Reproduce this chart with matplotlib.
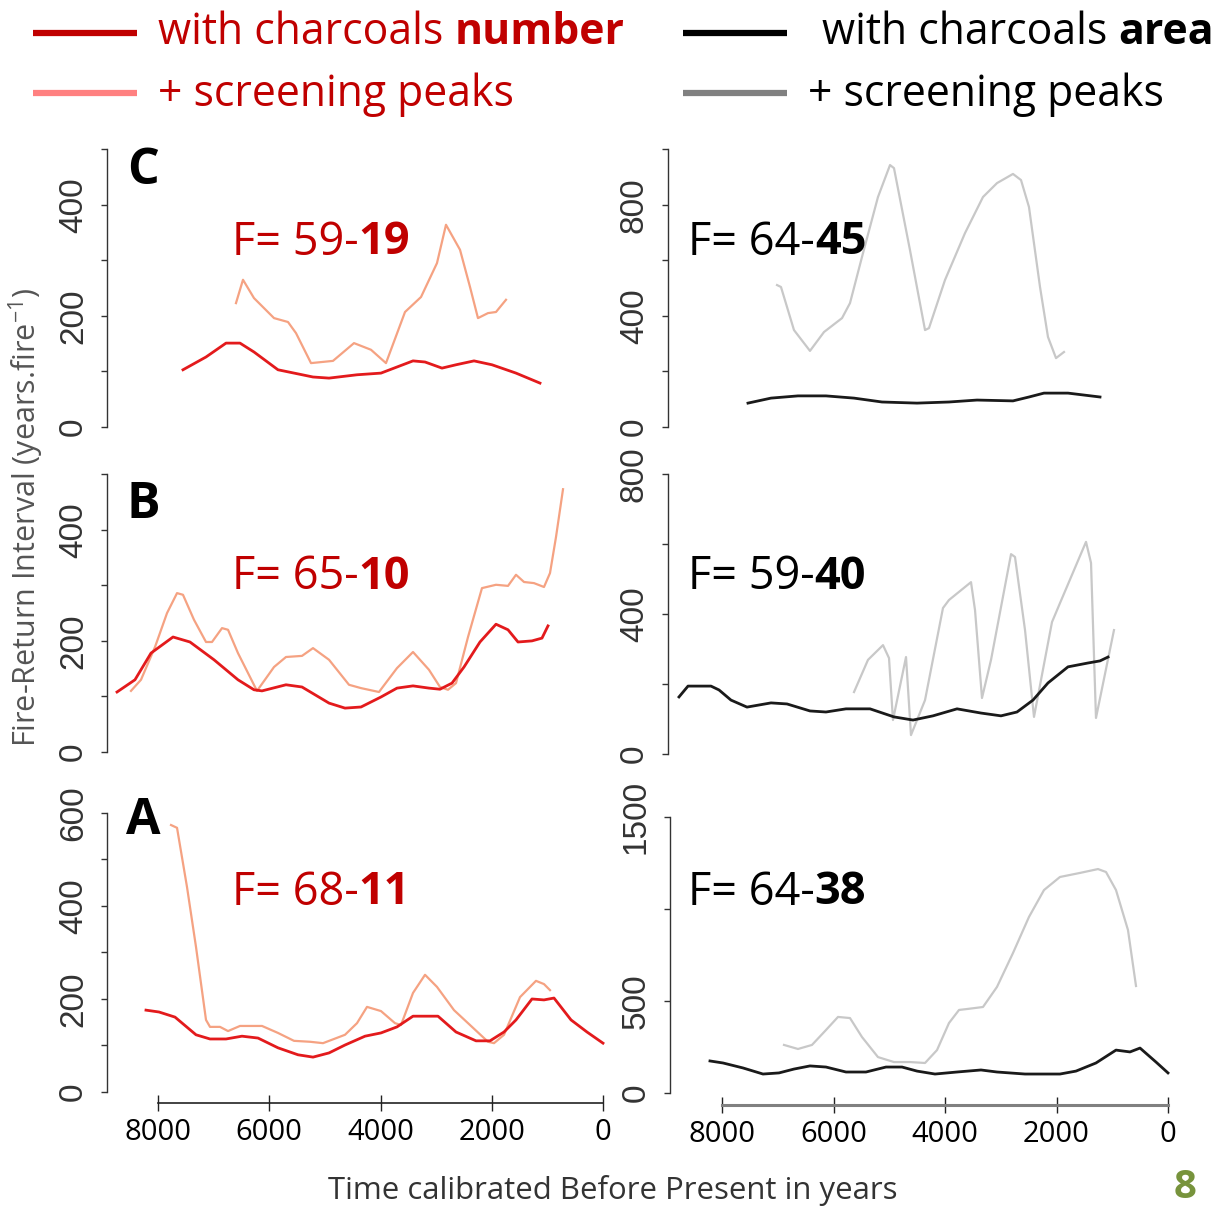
import matplotlib
matplotlib.use("Agg")
import matplotlib.pyplot as plt
from matplotlib.lines import Line2D

W, H = 1221, 1211

# ---- data (time BP in years, fire-return interval in years) ----
# C, charcoal number
c_num_t = [7552, 7138, 6778, 6527, 6275, 5844, 5214, 4926, 4423, 3992, 3704, 3416, 3200,
           2895, 2643, 2319, 1996, 1564, 1133]
c_num_v = [103, 126, 151, 151, 135, 103, 90, 88, 94, 97, 108, 119, 117, 106, 112, 119, 112, 97, 79]
c_npk_t = [6599, 6473, 6275, 5915, 5664, 5520, 5250, 4855, 4477, 4171, 3902, 3560, 3272,
           2985, 2823, 2571, 2391, 2248, 2068, 1924, 1744]
c_npk_v = [223, 265, 232, 196, 189, 169, 115, 119, 151, 139, 115, 207, 234, 295, 364, 319,
           252, 196, 205, 207, 229]
# C, charcoal area
c_area_t = [7535, 7122, 6638, 6136, 5633, 5131, 4503, 3929, 3427, 2781, 2494, 2225, 1794, 1507, 1220]
c_area_v = [86, 104, 112, 112, 104, 90, 86, 90, 97, 94, 108, 122, 122, 115, 108]
c_apk_t = [7014, 6943, 6710, 6423, 6171, 5848, 5705, 5490, 5203, 4987, 4916, 4629, 4359, 4288,
           4001, 3642, 3319, 3068, 2781, 2637, 2494, 2296, 2153, 2009, 1866]
c_apk_v = [511, 504, 349, 274, 342, 392, 446, 612, 828, 943, 932, 637, 349, 356, 529, 698, 828,
           878, 911, 889, 792, 504, 324, 248, 270]

# B, charcoal number
b_num_t = [8738, 8415, 8127, 7731, 7426, 6994, 6563, 6275, 6131, 5700, 5412, 4926, 4639, 4351,
           3992, 3704, 3416, 3129, 2931, 2715, 2499, 2212, 1924, 1708, 1528, 1277, 1097, 989]
b_num_v = [108, 130, 178, 207, 198, 166, 130, 112, 110, 121, 117, 88, 79, 81, 99, 115, 119, 115,
           113, 124, 153, 198, 230, 220, 198, 200, 205, 227]
b_npk_t = [8487, 8307, 8055, 7839, 7659, 7552, 7354, 7138, 7030, 6850, 6742, 6563, 6221, 5915,
           5700, 5412, 5214, 4926, 4567, 4351, 4028, 3704, 3416, 3129, 2931, 2787, 2643, 2427,
           2176, 1924, 1708, 1564, 1420, 1241, 1061, 953, 845, 719]
b_npk_v = [110, 130, 189, 250, 286, 283, 238, 198, 198, 223, 220, 178, 110, 153, 171, 173, 187,
           166, 121, 115, 108, 151, 180, 148, 117, 112, 124, 207, 295, 301, 299, 319, 306, 304,
           297, 322, 387, 473]
# B, charcoal area
b_area_t = [8773, 8611, 8199, 8055, 7840, 7553, 7122, 6835, 6423, 6136, 5777, 5346, 4916, 4575,
            4216, 3785, 3355, 2996, 2709, 2422, 2153, 1794, 1435, 1220, 1076]
b_area_v = [163, 194, 194, 183, 154, 134, 146, 143, 123, 120, 129, 129, 106, 97, 109, 129, 117,
            109, 120, 154, 203, 249, 260, 266, 277]
b_apk_t = [5633, 5382, 5113, 5005, 4934, 4700, 4611, 4359, 4037, 3929, 3534, 3462, 3337, 3175,
           2816, 2745, 2565, 2404, 2081, 1938, 1471, 1381, 1292, 969]
b_apk_v = [177, 269, 311, 274, 97, 277, 54, 154, 417, 440, 491, 411, 160, 269, 571, 563, 354,
           106, 377, 431, 606, 546, 103, 354]

# A, charcoal number
a_num_t = [8217, 7983, 7695, 7318, 7066, 6778, 6491, 6203, 5844, 5484, 5214, 4926, 4639, 4279,
           3992, 3704, 3416, 2967, 2643, 2283, 2032, 1780, 1564, 1277, 1061, 881, 575, 288, 0]
a_num_v = [176, 172, 161, 123, 114, 114, 120, 116, 95, 80, 75, 84, 101, 120, 127, 140, 163, 163,
           129, 110, 110, 129, 155, 200, 198, 202, 155, 129, 105]
a_npk_t = [7767, 7659, 7480, 7318, 7138, 7066, 6886, 6742, 6527, 6131, 5844, 5556, 5268, 5034,
           4639, 4423, 4243, 3992, 3740, 3632, 3416, 3200, 2985, 2679, 2427, 2068, 1960, 1780,
           1492, 1205, 1061, 953]
a_npk_v = [574, 568, 441, 312, 155, 140, 140, 131, 142, 142, 127, 110, 108, 105, 123, 148, 183,
           174, 148, 144, 213, 252, 226, 176, 148, 108, 105, 123, 204, 239, 232, 219]
# A, charcoal area
a_area_t = [8217, 7983, 7625, 7266, 6979, 6710, 6423, 6136, 5777, 5418, 5059, 4772, 4503, 4180,
            3785, 3355, 3068, 2565, 1938, 1650, 1292, 933, 682, 502, 215, 0]
a_area_v = [174, 163, 136, 103, 109, 130, 147, 141, 114, 114, 141, 141, 119, 103, 114, 125, 114,
            103, 103, 119, 163, 233, 223, 244, 168, 109]
a_apk_t = [6889, 6638, 6387, 6136, 5920, 5705, 5490, 5203, 4916, 4629, 4359, 4144, 3929, 3749,
           3606, 3319, 3068, 2781, 2494, 2225, 1938, 1579, 1256, 1112, 933, 718, 574]
a_apk_v = [261, 239, 261, 342, 413, 407, 304, 195, 168, 168, 163, 233, 380, 451, 456, 467, 576,
           760, 956, 1102, 1173, 1195, 1216, 1200, 1102, 885, 581]

f_left = [("59-", "19"), ("65-", "10"), ("68-", "11")]
f_right = [("64-", "45"), ("59-", "40"), ("64-", "38")]
letters = ["C", "B", "A"]

RED, ORANGE = "#E31A1C", "#F5A282"
BLACK, GREY = "#1A1A1A", "#C8C8C8"
DARKRED = "#C00000"
SANS = ["Open Sans", "DejaVu Sans"]

fig = plt.figure(figsize=(W / 100, H / 100), dpi=100)


def panel(x0, x1, y0, y1, t_at, t_sc, v_at, v_sc, ymax, step, labelled, xaxis=False, xcol="#222222", xlw=1.2):
    ax = fig.add_axes([x0 / W, 1 - y1 / H, (x1 - x0) / W, (y1 - y0) / H])
    ax.patch.set_visible(False)
    ax.set_xlim((t_at - x0) * t_sc, (t_at - x1) * t_sc)
    ax.set_ylim((v_at - y1) * v_sc, (v_at - y0) * v_sc)
    for s in ("top", "right"):
        ax.spines[s].set_visible(False)
    ax.spines["left"].set_bounds(0, ymax)
    ax.spines["left"].set_color("#333333")
    ax.spines["left"].set_linewidth(1.0)
    ticks = list(range(0, ymax + 1, step))
    ax.set_yticks(ticks)
    ax.set_yticklabels([str(t) if t in labelled else "" for t in ticks], rotation=90,
                       va="center", family=["Liberation Sans", "DejaVu Sans"], fontsize=24,
                       color="#333333")
    ax.tick_params(axis="y", length=4, width=1, color="#333333", pad=9)
    if xaxis:
        ax.spines["bottom"].set_bounds(0, 8000)
        ax.spines["bottom"].set_color(xcol)
        ax.spines["bottom"].set_linewidth(xlw)
        ax.set_xticks(range(0, 8001, 2000))
        ax.set_xticklabels([str(t) for t in range(0, 8001, 2000)],
                           family=["Liberation Sans Narrow", "Open Sans"], fontsize=21)
        ax.tick_params(axis="x", direction="inout", length=11, width=1, color="#222222", pad=5)
    else:
        ax.spines["bottom"].set_visible(False)
        ax.set_xticks([])
    return ax


L = (603, 17.98)
R = (1168, 17.94)
ax_c1 = panel(107, 640, 140, 440, *L, 427, 1.8, 500, 100, (0, 200, 400))
ax_c2 = panel(668, 1215, 140, 440, *R, 427, 3.6, 1000, 200, (0, 400, 800))
ax_b1 = panel(107, 640, 465, 760, *L, 752, 1.8, 500, 100, (0, 200, 400))
ax_b2 = panel(668, 1215, 465, 765, *R, 754, 2.857, 800, 200, (0, 400, 800))
ax_a1 = panel(107, 640, 795, 1103, *L, 1092, 2.15, 600, 100, (0, 200, 400, 600), xaxis=True)
ax_a2 = panel(670, 1215, 795, 1105, *R, 1093, 5.43, 1500, 500, (0, 500, 1500), xaxis=True,
              xcol="#808080", xlw=2.2)

for ax, t, v in [(ax_c1, c_npk_t, c_npk_v), (ax_b1, b_npk_t, b_npk_v), (ax_a1, a_npk_t, a_npk_v)]:
    ax.plot(t, v, color=ORANGE, lw=1.6, solid_joinstyle="round")
for ax, t, v in [(ax_c1, c_num_t, c_num_v), (ax_b1, b_num_t, b_num_v), (ax_a1, a_num_t, a_num_v)]:
    ax.plot(t, v, color=RED, lw=2.0, solid_joinstyle="round")
for ax, t, v in [(ax_c2, c_apk_t, c_apk_v), (ax_b2, b_apk_t, b_apk_v), (ax_a2, a_apk_t, a_apk_v)]:
    ax.plot(t, v, color=GREY, lw=1.6, solid_joinstyle="round")
for ax, t, v in [(ax_c2, c_area_t, c_area_v), (ax_b2, b_area_t, b_area_v), (ax_a2, a_area_t, a_area_v)]:
    ax.plot(t, v, color=BLACK, lw=2.0, solid_joinstyle="round")

renderer = fig.canvas.get_renderer()


def two_part(x, y, a, b, color, size):
    t1 = fig.text(x / W, 1 - y / H, a, color=color, fontsize=size, family=SANS,
                  ha="left", va="center")
    bb = t1.get_window_extent(renderer)
    fig.text(bb.x1 / W, 1 - y / H, b, color=color, fontsize=size, family=SANS,
             fontweight="bold", ha="left", va="center")


# panel letters and F values
for i, y in enumerate([243, 577, 893]):
    fig.text(143 / W, 1 - (y - 72) / H, letters[i], fontsize=36, fontweight="bold",
             family=SANS, ha="center", va="center", color="black")
    two_part(232, y, "F= " + f_left[i][0], f_left[i][1], DARKRED, 32.5)
    two_part(688, y, "F= " + f_right[i][0], f_right[i][1], "black", 32.5)

# legend
for (xa, xb, y, col) in [(33, 137, 33, DARKRED), (33, 137, 93, "#FF8080"),
                         (683, 787, 33, "black"), (683, 787, 93, "#808080")]:
    fig.add_artist(Line2D([xa / W, xb / W], [1 - y / H] * 2, transform=fig.transFigure,
                          color=col, lw=4.5, solid_capstyle="butt"))
two_part(158, 33, "with charcoals ", "number", DARKRED, 30.8)
fig.text(158 / W, 1 - 95 / H, "+ screening peaks", color=DARKRED, fontsize=30.8, family=SANS,
         ha="left", va="center")
two_part(822, 33, "with charcoals ", "area", "black", 30.8)
fig.text(808 / W, 1 - 95 / H, "+ screening peaks", color="black", fontsize=30.8, family=SANS,
         ha="left", va="center")

# axis titles
fig.text(26 / W, 1 - 517 / H, "Fire-Return Interval (years.fire$^{\\mathregular{-1}}$)",
         rotation=90, fontsize=22, family=SANS, color="#555555", ha="center", va="center")
fig.text(613 / W, 1 - 1191 / H, "Time calibrated Before Present in years", fontsize=22.4,
         family=SANS, color="#333333", ha="center", va="center")
fig.text(1185 / W, 1 - 1188 / H, "8", fontsize=29, fontweight="bold", family=SANS,
         color="#77933C", ha="center", va="center")

fig.savefig("out.png", dpi=100)
